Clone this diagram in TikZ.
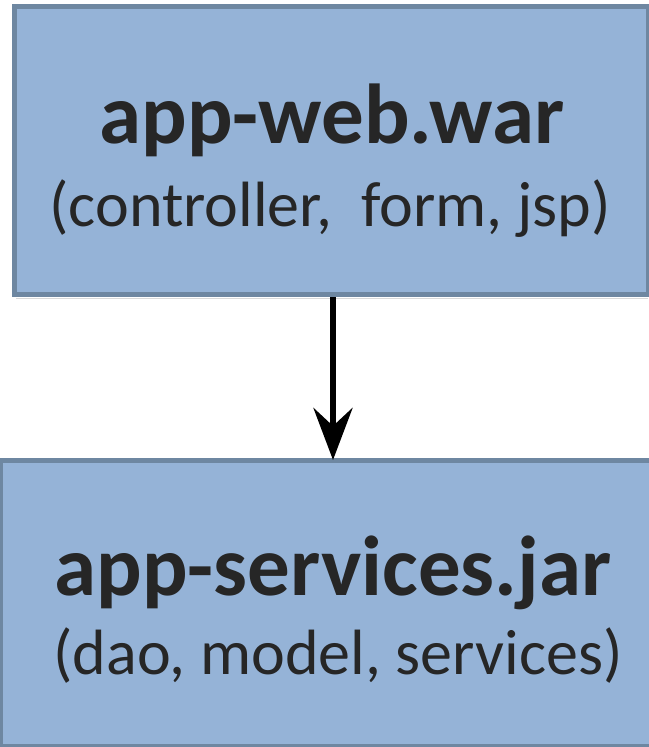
\documentclass[tikz,border=0pt]{standalone}
\usepackage{fontspec}
\setmainfont{Carlito}
\usetikzlibrary{arrows.meta}
\definecolor{boxfill}{HTML}{95B3D7}
\definecolor{boxline}{HTML}{6E87A1}
\definecolor{txt}{HTML}{262626}
\tikzset{
  modbox/.style={draw=boxline, fill=boxfill, line width=5pt, rectangle, inner sep=0pt},
  titletext/.style={text=txt, font=\fontsize{85}{92}\selectfont\bfseries, anchor=base, inner sep=0pt},
  subtext/.style={text=txt, font=\fontsize{64}{70}\selectfont, anchor=base, inner sep=0pt},
  deparrow/.style={line width=6.5pt, -{Stealth[length=52pt,width=39pt,inset=18pt]}}
}
\begin{document}
\begin{tikzpicture}[x=1pt,y=-1pt]
\useasboundingbox (0,0) rectangle (648,747);
\fill[black!15] (16,297.5) rectangle (648,299);
\node[modbox, minimum width=634pt, minimum height=288pt] (web) at (331.5,150.5) {};
\node[modbox, minimum width=659pt, minimum height=285.5pt] (svc) at (330,603.25) {};
\node[titletext] (webtitle) at (332,143) {app-web.war};
\node[subtext] (websub) at (330,226) {(controller,~ form, jsp)};
\node[titletext] (svctitle) at (333,595) {app-services.jar};
\node[subtext] (svcsub) at (338,674) {(dao, model, services)};
\draw[deparrow] ([xshift=1.5pt]web.south) -- ([xshift=1.5pt,yshift=-2pt]web.south |- svc.north);
\end{tikzpicture}
\end{document}
